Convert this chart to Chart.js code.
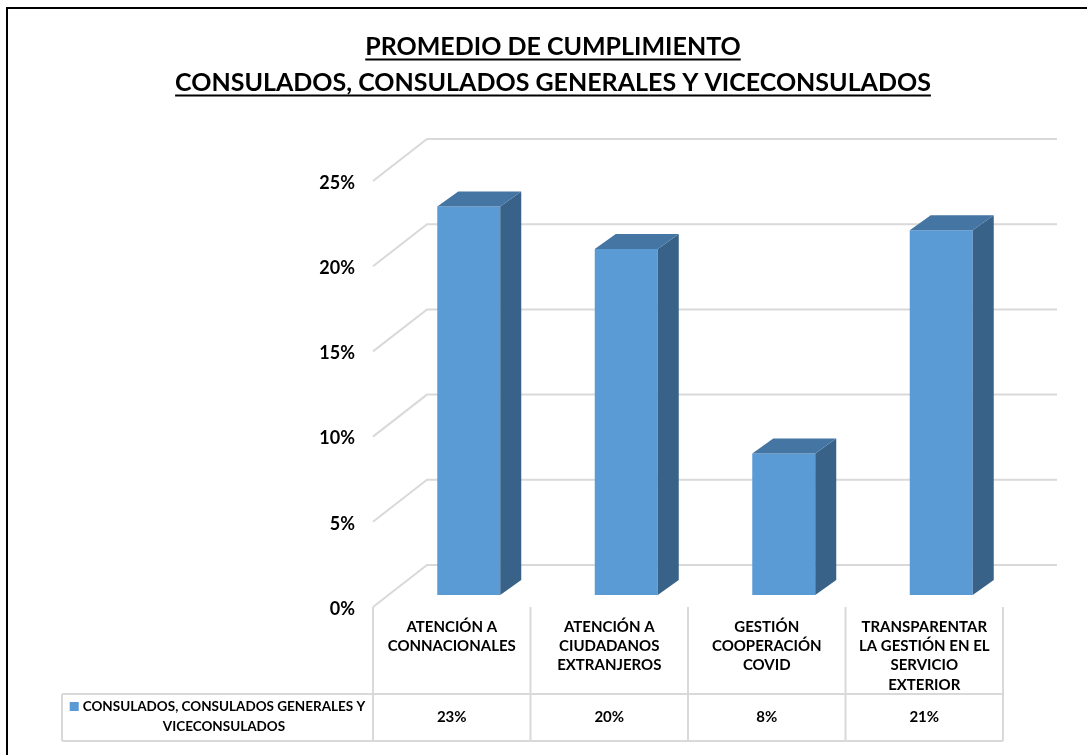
<!DOCTYPE html>
<html>
<head>
<meta charset="utf-8">
<script src="https://cdn.jsdelivr.net/npm/chart.js@4.4.1/dist/chart.umd.min.js"></script>
<style>
  html, body { margin: 0; padding: 0; background: #fff; overflow: hidden; }
  #wrap { position: relative; width: 1087px; height: 755px; overflow: hidden; }
  #marco { position: absolute; left: 6px; top: 7px; width: 1300px; height: 1000px; border: 2px solid #000; pointer-events: none; }
</style>
</head>
<body>
<div id="wrap">
  <canvas id="myChart"></canvas>
  <div id="marco"></div>
</div>
<script>
// datos del grafico
var titulo = ['PROMEDIO DE CUMPLIMIENTO', 'CONSULADOS, CONSULADOS GENERALES Y VICECONSULADOS'];
var serie = 'CONSULADOS, CONSULADOS GENERALES Y VICECONSULADOS';
var categorias = [
    ['ATENCIÓN A', 'CONNACIONALES'],
    ['ATENCIÓN A', 'CIUDADANOS', 'EXTRANJEROS'],
    ['GESTIÓN', 'COOPERACIÓN', 'COVID'],
    ['TRANSPARENTAR', 'LA GESTIÓN EN EL', 'SERVICIO', 'EXTERIOR']
];
var valores = [0.228, 0.203, 0.083, 0.214];
var ticksY = [0, 0.05, 0.10, 0.15, 0.20, 0.25];

var azul = '#5b9bd5', azulTapa = '#4575a2', azulLado = '#396289';
var gris = '#d9d9d9';
var FRENTE = [-17, 12];   // desplazamiento del plano frontal (ejes y tabla)
var FONDO = [37, -30];    // desplazamiento de la pared del fondo
var PROF = [21, -15];     // profundidad de cada barra

Chart.defaults.font.family = 'Lato';
Chart.defaults.color = '#000';

function pct(v) { return Math.round(v * 100) + '%'; }

// rejilla en perspectiva + caras laterales de las barras
var tresD = {
    id: 'tresD',
    beforeDatasetsDraw: function(chart) {
        var ctx = chart.ctx, a = chart.chartArea, y = chart.scales.y;
        ctx.save();
        ctx.strokeStyle = gris;
        ctx.lineWidth = 2;
        y.ticks.forEach(function(t) {
            var py = y.getPixelForValue(t.value);
            ctx.beginPath();
            ctx.moveTo(a.left + FRENTE[0], py + FRENTE[1]);
            ctx.lineTo(a.left + FONDO[0], py + FONDO[1]);
            ctx.lineTo(a.right + FONDO[0], py + FONDO[1]);
            ctx.stroke();
        });
        ctx.restore();
    },
    afterDatasetsDraw: function(chart) {
        var ctx = chart.ctx;
        ctx.save();
        chart.getDatasetMeta(0).data.forEach(function(bar) {
            var p = bar.getProps(['x', 'y', 'base', 'width'], true);
            var l = p.x - p.width / 2, r = p.x + p.width / 2;
            // lado
            ctx.fillStyle = azulLado;
            ctx.beginPath();
            ctx.moveTo(r, p.y);
            ctx.lineTo(r + PROF[0], p.y + PROF[1]);
            ctx.lineTo(r + PROF[0], p.base + PROF[1]);
            ctx.lineTo(r, p.base);
            ctx.closePath();
            ctx.fill();
            // tapa
            ctx.fillStyle = azulTapa;
            ctx.beginPath();
            ctx.moveTo(l, p.y);
            ctx.lineTo(l + PROF[0], p.y + PROF[1]);
            ctx.lineTo(r + PROF[0], p.y + PROF[1]);
            ctx.lineTo(r, p.y);
            ctx.closePath();
            ctx.fill();
        });
        ctx.restore();
    }
};

// tabla de datos debajo del grafico + subrayado del titulo
var tabla = {
    id: 'tabla',
    afterDraw: function(chart) {
        var ctx = chart.ctx, a = chart.chartArea;
        var n = categorias.length;
        var colW = (a.right - a.left) / n;
        var x0 = a.left + FRENTE[0];
        var yTop = a.bottom + FRENTE[1];
        var yFila = a.bottom + 99;
        var yFin = a.bottom + 146;
        var xLey = 62;
        ctx.save();
        ctx.strokeStyle = gris;
        ctx.lineWidth = 2;
        ctx.beginPath();
        for (var i = 0; i <= n; i++) {
            ctx.moveTo(x0 + i * colW, yTop);
            ctx.lineTo(x0 + i * colW, yFin);
        }
        ctx.moveTo(xLey, yFila); ctx.lineTo(x0 + n * colW, yFila);
        ctx.moveTo(xLey, yFin); ctx.lineTo(x0 + n * colW, yFin);
        ctx.moveTo(xLey, yFila); ctx.lineTo(xLey, yFin);
        ctx.stroke();

        // valores
        ctx.fillStyle = '#000';
        ctx.font = 'bold 15px Lato';
        ctx.textAlign = 'center';
        ctx.textBaseline = 'middle';
        valores.forEach(function(v, i) {
            ctx.fillText(pct(v), x0 + (i + 0.5) * colW, (yFila + yFin) / 2);
        });

        // leyenda en la celda izquierda
        ctx.font = 'bold 13.5px Lato';
        var palabras = serie.split(' '), lineas = [], linea = '';
        palabras.forEach(function(w) {
            var prueba = linea ? linea + ' ' + w : w;
            if (ctx.measureText(prueba).width > 295 && linea) { lineas.push(linea); linea = w; }
            else linea = prueba;
        });
        lineas.push(linea);
        var cx = 224;
        lineas.forEach(function(t, i) {
            ctx.fillText(t, cx, yFila + 12.5 + i * 20);
        });
        var w0 = ctx.measureText(lineas[0]).width;
        ctx.fillStyle = azul;
        ctx.fillRect(cx - w0 / 2 - 13, yFila + 8, 9, 9);

        // subrayado del titulo
        var tb = chart.titleBlock, to = tb.options;
        var size = to.font.size, lh = size * to.font.lineHeight;
        ctx.font = 'bold ' + size + 'px Lato';
        ctx.strokeStyle = '#000';
        ctx.lineWidth = 2;
        var tx = tb.left + tb.width / 2;
        titulo.forEach(function(t, i) {
            var w = ctx.measureText(t).width;
            var yy = tb.top + to.padding.top + lh / 2 + i * lh + size * 0.5;
            ctx.beginPath();
            ctx.moveTo(tx - w / 2, yy);
            ctx.lineTo(tx + w / 2, yy);
            ctx.stroke();
        });
        ctx.restore();
    }
};

var ctx = document.getElementById('myChart').getContext('2d');
var chart = new Chart(ctx, {
    type: 'bar',
    data: {
        labels: categorias,
        datasets: [{
            label: serie,
            data: valores,
            backgroundColor: azul,
            borderWidth: 0,
            barPercentage: 0.4,
            categoryPercentage: 1
        }]
    },
    options: {
        responsive: true,
        maintainAspectRatio: false,
        animation: false,
        devicePixelRatio: 1,
        layout: { padding: { left: 86, right: 67, top: 0, bottom: 0 } },
        plugins: {
            legend: { display: false },
            tooltip: { enabled: false },
            title: {
                display: true,
                text: titulo,
                color: '#000',
                font: { size: 25, weight: 'bold', lineHeight: 36 / 25 },
                padding: { top: 29, bottom: 68 }
            }
        },
        scales: {
            x: {
                grid: { display: false, drawTicks: false },
                border: { display: false },
                ticks: {
                    padding: 22,
                    labelOffset: FRENTE[0],
                    maxRotation: 0,
                    minRotation: 0,
                    autoSkip: false,
                    font: { size: 15, weight: 'bold', lineHeight: 1.29 }
                },
                afterFit: function(s) { s.height = 160; }
            },
            y: {
                min: 0,
                max: 0.25,
                afterBuildTicks: function(s) { s.ticks = ticksY.map(function(v) { return { value: v }; }); },
                grid: { display: false, drawTicks: false },
                border: { display: false },
                ticks: {
                    padding: 35,
                    labelOffset: 14,
                    font: { size: 18, weight: 'bold' },
                    callback: function(v) { return pct(v); }
                },
                afterFit: function(s) { s.width = 304; }
            }
        }
    },
    plugins: [tresD, tabla]
});
</script>
</body>
</html>
